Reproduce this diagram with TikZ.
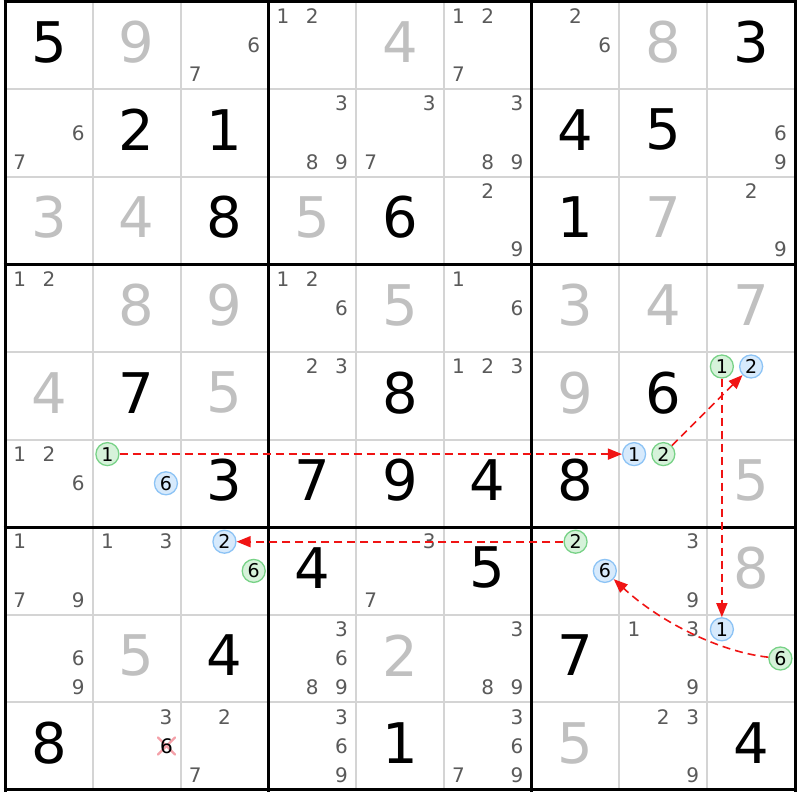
\documentclass[tikz,border=0pt]{standalone}
\usepackage{fontspec}
\setmainfont{DejaVu Sans}
\usetikzlibrary{arrows.meta,calc}
\definecolor{thin}{RGB}{212,212,212}
\definecolor{given}{RGB}{192,192,192}
\definecolor{candc}{RGB}{90,90,90}
\definecolor{bstroke}{RGB}{140,195,245}
\definecolor{bfill}{RGB}{215,234,252}
\definecolor{gstroke}{RGB}{120,210,135}
\definecolor{gfill}{RGB}{214,242,218}
\definecolor{linkred}{RGB}{240,20,20}
\definecolor{xpink}{RGB}{244,160,168}
\tikzset{
  bigdig/.style={inner sep=0pt,font=\fontsize{56}{56}\selectfont},
  cand/.style={inner sep=0pt,text=candc,font=\fontsize{20}{20}\selectfont},
  circd/.style={circle,inner sep=0pt,minimum size=23pt,line width=1.3pt,text=black,font=\fontsize{19}{19}\selectfont},
  bc/.style={circd,draw=bstroke,fill=bfill},
  gc/.style={circd,draw=gstroke,fill=gfill},
  link/.style={draw=linkred,line width=1.6pt,dash pattern=on 8pt off 5pt,-{Triangle[length=14pt,width=11pt]}},
  thinline/.style={draw=thin,line width=2pt},
  thickline/.style={draw=black,line width=3pt},
  xline/.style={draw=xpink,line width=2.2pt,line cap=round}
}
\newcommand\BigD[4]{\node[bigdig,text=#4] (v#1#2) at ({5+(#2-0.5)*87.78},{1.5+(#1-0.5)*87.6-3}) {#3};}
\newcommand\CandS[3]{\foreach \k in {#3}{\node[cand] (n#1#2\k) at ({5+(#2-1)*87.78+(mod(\k-1,3)+0.5)*29.26},{1.5+(#1-1)*87.6+(floor((\k-1)/3)+0.5)*29.2}) {\k};}}
\newcommand\CircD[4]{\node[#4] (o#1#2#3) at ({5+(#2-1)*87.78+(mod(#3-1,3)+0.5)*29.26},{1.5+(#1-1)*87.6+(floor((#3-1)/3)+0.5)*29.2}) {#3};}
\begin{document}
\begin{tikzpicture}[x=1pt,y=-1pt]
\useasboundingbox[fill=white] (0,0) rectangle (800,800);
% grid
\foreach \i in {1,2,4,5,7,8}{
  \draw[thinline] ({5+\i*87.78},1.5) -- ({5+\i*87.78},790);
  \draw[thinline] (5,{1.5+\i*87.6}) -- (795,{1.5+\i*87.6});
}
\foreach \i in {0,3,6,9}{
  \draw[thickline] ({5+\i*87.78},0) -- ({5+\i*87.78},791.5);
  \draw[thickline] (3.5,{1.5+\i*87.6}) -- (796.5,{1.5+\i*87.6});
}
% row 1
\BigD{1}{1}{5}{black} \BigD{1}{2}{9}{given} \CandS{1}{3}{6,7} \CandS{1}{4}{1,2}
\BigD{1}{5}{4}{given} \CandS{1}{6}{1,2,7} \CandS{1}{7}{2,6} \BigD{1}{8}{8}{given} \BigD{1}{9}{3}{black}
% row 2
\CandS{2}{1}{6,7} \BigD{2}{2}{2}{black} \BigD{2}{3}{1}{black} \CandS{2}{4}{3,8,9}
\CandS{2}{5}{3,7} \CandS{2}{6}{3,8,9} \BigD{2}{7}{4}{black} \BigD{2}{8}{5}{black} \CandS{2}{9}{6,9}
% row 3
\BigD{3}{1}{3}{given} \BigD{3}{2}{4}{given} \BigD{3}{3}{8}{black} \BigD{3}{4}{5}{given}
\BigD{3}{5}{6}{black} \CandS{3}{6}{2,9} \BigD{3}{7}{1}{black} \BigD{3}{8}{7}{given} \CandS{3}{9}{2,9}
% row 4
\CandS{4}{1}{1,2} \BigD{4}{2}{8}{given} \BigD{4}{3}{9}{given} \CandS{4}{4}{1,2,6}
\BigD{4}{5}{5}{given} \CandS{4}{6}{1,6} \BigD{4}{7}{3}{given} \BigD{4}{8}{4}{given} \BigD{4}{9}{7}{given}
% row 5
\BigD{5}{1}{4}{given} \BigD{5}{2}{7}{black} \BigD{5}{3}{5}{given} \CandS{5}{4}{2,3}
\BigD{5}{5}{8}{black} \CandS{5}{6}{1,2,3} \BigD{5}{7}{9}{given} \BigD{5}{8}{6}{black}
\CircD{5}{9}{1}{gc} \CircD{5}{9}{2}{bc}
% row 6
\CandS{6}{1}{1,2,6} \CircD{6}{2}{1}{gc} \CircD{6}{2}{6}{bc} \BigD{6}{3}{3}{black}
\BigD{6}{4}{7}{black} \BigD{6}{5}{9}{black} \BigD{6}{6}{4}{black} \BigD{6}{7}{8}{black}
\CircD{6}{8}{1}{bc} \CircD{6}{8}{2}{gc} \BigD{6}{9}{5}{given}
% row 7
\CandS{7}{1}{1,7,9} \CandS{7}{2}{1,3} \CircD{7}{3}{2}{bc} \CircD{7}{3}{6}{gc}
\BigD{7}{4}{4}{black} \CandS{7}{5}{3,7} \BigD{7}{6}{5}{black}
\CircD{7}{7}{2}{gc} \CircD{7}{7}{6}{bc} \CandS{7}{8}{3,9} \BigD{7}{9}{8}{given}
% row 8
\CandS{8}{1}{6,9} \BigD{8}{2}{5}{given} \BigD{8}{3}{4}{black} \CandS{8}{4}{3,6,8,9}
\BigD{8}{5}{2}{given} \CandS{8}{6}{3,8,9} \BigD{8}{7}{7}{black} \CandS{8}{8}{1,3,9}
\CircD{8}{9}{1}{bc} \CircD{8}{9}{6}{gc}
% row 9
\BigD{9}{1}{8}{black} \CandS{9}{2}{3} \CandS{9}{3}{2,7} \CandS{9}{4}{3,6,9}
\BigD{9}{5}{1}{black} \CandS{9}{6}{3,6,7,9} \BigD{9}{7}{5}{given} \CandS{9}{8}{2,3,9} \BigD{9}{9}{4}{black}
% eliminated candidate
\draw[xline] ($(166.5,746)+(-8.5,-8.5)$) -- ($(166.5,746)+(8.5,8.5)$);
\draw[xline] ($(166.5,746)+(-8.5,8.5)$) -- ($(166.5,746)+(8.5,-8.5)$);
\node[cand,text=black] (n926) at (166.5,746) {6};
% links
\draw[link] (o621) -- (o681);
\draw[link] (o682) -- (o592);
\draw[link] (o591) -- (o891);
\draw[link] (o896) .. controls (720,652) and (660,622) .. (o776);
\draw[link] (o772.west) -- (o732.east);
\end{tikzpicture}
\end{document}
